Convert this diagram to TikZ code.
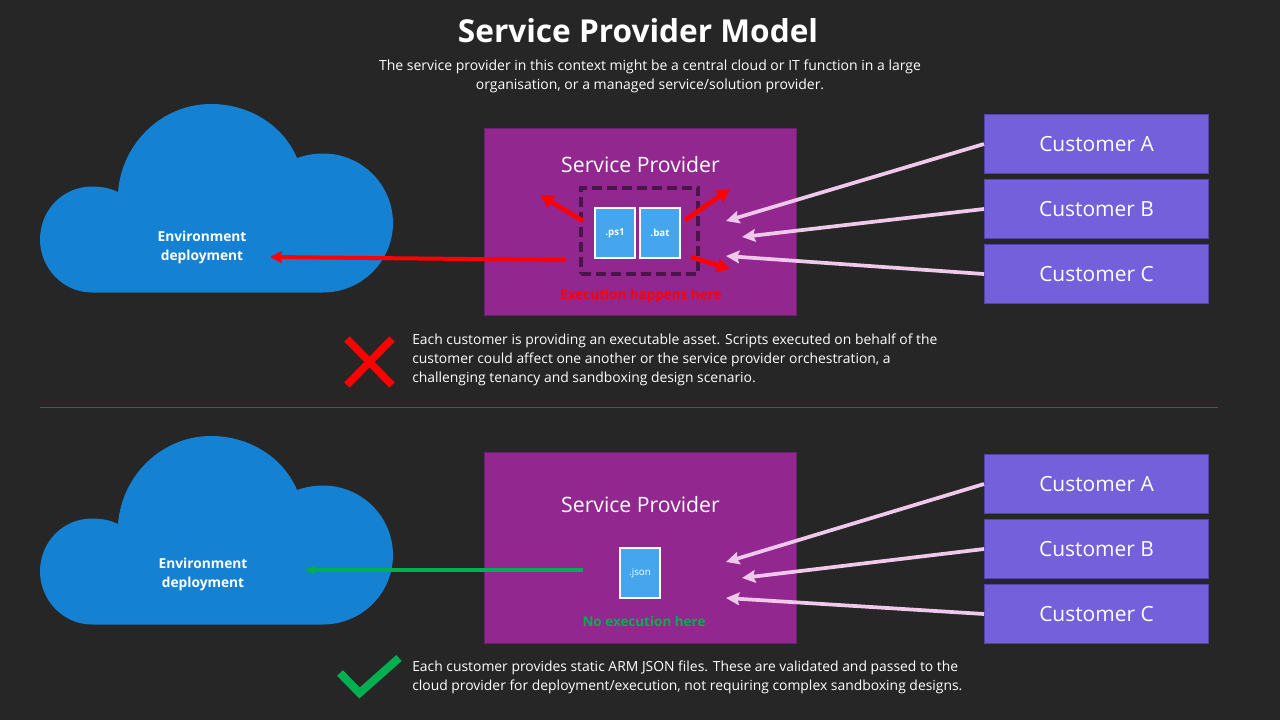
\documentclass[tikz,border=0pt]{standalone}
\usepackage{fontspec}
\setmainfont{Open Sans}
\usetikzlibrary{arrows.meta}
\definecolor{bgc}{HTML}{262626}
\definecolor{cloudc}{HTML}{1481D3}
\definecolor{provc}{HTML}{92278F}
\definecolor{provb}{HTML}{6B2070}
\definecolor{custc}{HTML}{7460DB}
\definecolor{custb}{HTML}{5245A8}
\definecolor{filec}{HTML}{45A5ED}
\definecolor{pinkc}{HTML}{F0C8EC}
\definecolor{dashc}{HTML}{4A1548}
\definecolor{greenc}{HTML}{00B050}
\newcommand{\fs}[1]{\fontsize{#1}{14.25}\selectfont}
\tikzset{x=0.75pt,y=-0.75pt,
 txt/.style={text=white,inner sep=0pt,align=center},
 body/.style={text=white,inner sep=0pt,align=left,anchor=west,font=\fs{10.42}},
 provider/.style={fill=provc,draw=provb,line width=1pt,minimum width=234pt,inner sep=0pt},
 customer/.style={fill=custc,draw=custb,line width=.75pt,minimum width=168pt,minimum height=44.5pt,text=white,font=\fs{15.7},inner sep=0pt},
 filebox/.style={fill=filec,draw=white,line width=1.3pt,minimum width=30pt,minimum height=37.5pt,text=white,font=\fs{7.3},inner sep=0pt},
 pinkarrow/.style={draw=pinkc,line width=2.8pt,-{Stealth[length=10pt,width=9.5pt,inset=1.5pt]}},
 redarrow/.style={draw=red,line width=3pt,-{Stealth[length=9pt,width=9pt,inset=1pt]}},
 redshort/.style={draw=red,line width=3.5pt,-{Stealth[length=10pt,width=10.5pt,inset=1pt]}},
 greenarrow/.style={draw=greenc,line width=2.6pt,-{Stealth[length=8pt,width=6.5pt,inset=1pt]}},
 lbl/.style={txt,font=\bfseries\fs{10.3}},
}
\begin{document}
\begin{tikzpicture}
\useasboundingbox (0,0) rectangle (1280,720);
\fill[bgc] (0,0) rectangle (1280,720);
\node[txt,font=\bfseries\fontsize{23.7}{28}\selectfont] (title) at (638,31) {Service Provider Model};
\node[txt,font=\fs{10.5}] (sub) at (650,76.5) {The service provider in this context might be a central cloud or IT function in a large\\organisation, or a managed service/solution provider.};
% clouds
\fill[cloudc] (92,292.5) .. controls (63,292.5) and (40,268) .. (40,239.5) .. controls (40,210) and (63,186.5) .. (92,186.5) .. controls (101,186.5) and (110,188) .. (118,192) .. controls (122,142) and (163,104) .. (211,104) .. controls (249,104) and (283,125) .. (297,158) .. controls (306,155) and (314,153.5) .. (323,153.5) .. controls (362,153.5) and (393,185) .. (393,223) .. controls (393,261) and (362,292.5) .. (323,292.5) -- cycle;
\fill[cloudc] (92,624.5) .. controls (63,624.5) and (40,600) .. (40,571.5) .. controls (40,542) and (63,518.5) .. (92,518.5) .. controls (101,518.5) and (110,520) .. (118,524) .. controls (122,474) and (163,436) .. (211,436) .. controls (249,436) and (283,457) .. (297,490) .. controls (306,487) and (314,485.5) .. (323,485.5) .. controls (362,485.5) and (393,517) .. (393,555) .. controls (393,593) and (362,624.5) .. (323,624.5) -- cycle;
\node[lbl] (env1) at (202,247) {Environment\\deployment};
\node[lbl] (env2) at (203,574) {Environment\\deployment};
% providers
\node[provider,minimum height=140pt] (p1) at (640.5,222) {};
\node[provider,minimum height=143pt] (p2) at (640.5,548) {};
\node[txt,font=\fs{15.9}] (pt1) at (640.5,165) {Service Provider};
\node[txt,font=\fs{15.9}] (pt2) at (640.5,505) {Service Provider};
% dashed
\node[draw=dashc,line width=2.8pt,dash pattern=on 7.5pt off 3.75pt,minimum width=88pt,minimum height=64.5pt,inner sep=0pt] (dash) at (639.5,231) {};
\node[filebox] (ps) at (615,233) {\raisebox{-1.5pt}{\bfseries .ps1}};
\node[filebox] (bat) at (660,233) {\raisebox{-1pt}{\bfseries .bat}};
\node[filebox] (json) at (640,573) {.json};
\node[txt,font=\bfseries\fs{10.1},text=red] (ex) at (641,296.5) {Execution happens here};
\node[txt,font=\bfseries\fs{10.1},text=greenc] (noex) at (644,621) {No execution here};
% customers
\foreach \n/\t/\y in {a1/A/144,b1/B/209,c1/C/274,a2/A/484,b2/B/549,c2/C/614}{
 \node[customer] (\n) at (1096.5,\y) {Customer \t};
}
% connector ends
\coordinate (ta1) at (726,221); \coordinate (tb1) at (742,237); \coordinate (tc1) at (726,256);
\coordinate (ta2) at (726,562); \coordinate (tb2) at (742,578); \coordinate (tc2) at (726,598);
\draw[pinkarrow] (a1.west) -- (ta1);
\draw[pinkarrow] (b1.west) -- (tb1);
\draw[pinkarrow] (c1.west) -- (tc1);
\draw[pinkarrow] (a2.west) -- (ta2);
\draw[pinkarrow] (b2.west) -- (tb2);
\draw[pinkarrow] (c2.west) -- (tc2);
% red arrows
\coordinate (r1s) at (583,221); \coordinate (r1e) at (540,195);
\coordinate (r2s) at (685,220); \coordinate (r2e) at (730,189);
\coordinate (r3s) at (691,257); \coordinate (r3e) at (730,269);
\coordinate (r4s) at (566,260); \coordinate (r4e) at (270,257);
\draw[redshort] (r1s) -- (r1e);
\draw[redshort] (r2s) -- (r2e);
\draw[redshort] (r3s) -- (r3e);
\draw[redarrow] (r4s) -- (r4e);
\coordinate (g1s) at (583,570); \coordinate (g1e) at (304,570);
\draw[greenarrow] (g1s) -- (g1e);
% cross and check
\draw[red,line width=5.6pt] (347,339) -- (392,385) (392,339) -- (347,385);
\draw[greenc,line width=6pt] (340,673) -- (359.5,693) -- (399,658);
% body
\node[body] (t1) at (412,360) {Each customer is providing an executable asset. Scripts executed on behalf of the\\customer could affect one another or the service provider orchestration, a\\challenging tenancy and sandboxing design scenario.};
\node[body] (t2) at (412,677) {Each customer provides static ARM JSON files. These are validated and passed to the\\cloud provider for deployment/execution, not requiring complex sandboxing designs.};
\draw[provc,line width=.75pt] (40,407.5) -- (1218,407.5);
\end{tikzpicture}
\end{document}
